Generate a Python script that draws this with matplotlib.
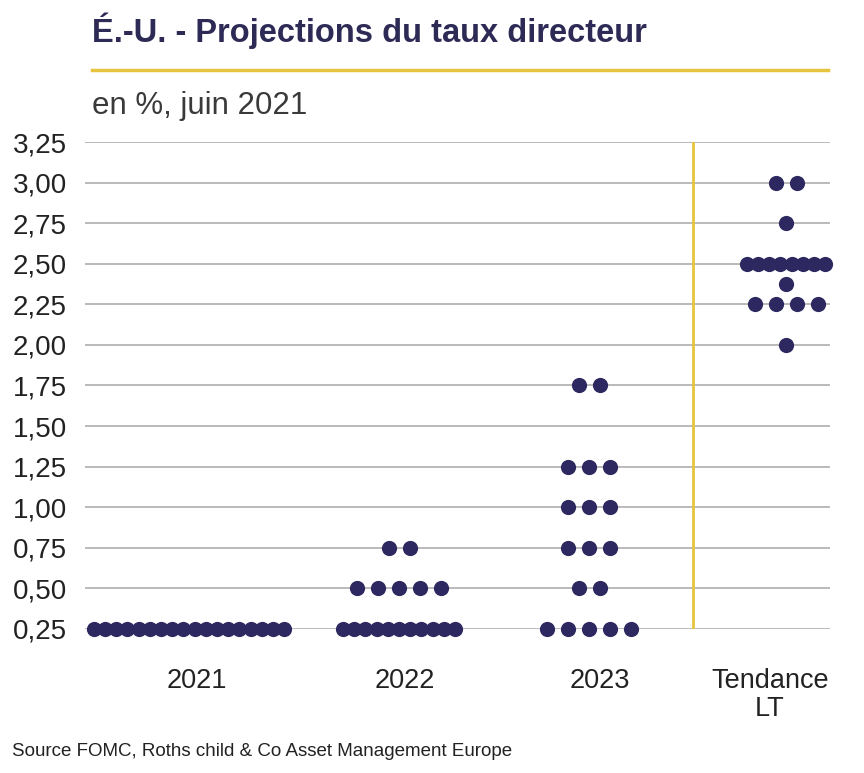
import matplotlib.pyplot as plt
from matplotlib.lines import Line2D

# FOMC dot plot, June 2021
categories = ['2021', '2022', '2023', 'Tendance\nLT']
levels_2021 = [0.25]
counts_2021 = [18]
levels_2022 = [0.25, 0.50, 0.75]
counts_2022 = [11, 5, 2]
levels_2023 = [0.25, 0.50, 0.75, 1.00, 1.25, 1.75]
counts_2023 = [5, 2, 3, 3, 3, 2]
levels_lt = [2.00, 2.25, 2.375, 2.50, 2.75, 3.00]
counts_lt = [1, 4, 1, 8, 1, 2]
yticks = [0.25, 0.50, 0.75, 1.00, 1.25, 1.50, 1.75, 2.00, 2.25, 2.50, 2.75, 3.00, 3.25]

navy = '#2e2860'
yellow = '#e6c440'
plt.rcParams['font.family'] = ['Liberation Sans', 'DejaVu Sans']

W, H = 864, 773
fig = plt.figure(figsize=(W / 100, H / 100), dpi=100)
ax = fig.add_axes([85 / W, 1 - 629 / H, 745 / W, 487 / H])
ax.set_xlim(85, 830)
ax.set_ylim(0.25, 3.25)

centers = [189, 399, 589, 786]
label_x = [197, 405, 600, 770]
groups = [(levels_2021, counts_2021), (levels_2022, counts_2022),
          (levels_2023, counts_2023), (levels_lt, counts_lt)]

for c, (levels, counts) in zip(centers, groups):
    for lev, n in zip(levels, counts):
        step = 21 if n <= 5 else 11.2
        xs = [c + (i - (n - 1) / 2) * step for i in range(n)]
        ax.scatter(xs, [lev] * n, s=120, color=navy, zorder=3,
                   clip_on=False, linewidths=0)

for t in yticks:
    ax.axhline(t, color='#b4b4b4', lw=1.3, zorder=1)
ax.add_line(Line2D([693, 693], [0.25, 3.25], color=yellow, lw=2, zorder=2))

ax.set_yticks(yticks)
ax.set_yticklabels([f'{t:.2f}'.replace('.', ',') for t in yticks],
                   fontsize=20, color='#222222')
ax.tick_params(axis='y', length=0, pad=13)
ax.set_xticks([])
for s in ax.spines.values():
    s.set_visible(False)

for x, lab in zip(label_x, categories):
    ax.text(x, 0.25 - 0.24, lab, ha='center', va='top', fontsize=19.5,
            color='#222222', linespacing=1.1)

fig.text(92 / W, 1 - 31 / H, 'É.-U. - Projections du taux directeur',
         fontsize=23.5, fontweight='bold', color='#2d2a55', va='center')
fig.add_artist(Line2D([92 / W, 828 / W], [1 - 70 / H, 1 - 70 / H],
                      color=yellow, lw=2.5))
fig.text(92 / W, 1 - 106 / H, 'en %, juin 2021', fontsize=22.5,
         color='#3a3a3a', va='center')
fig.text(12 / W, 1 - 751 / H,
         'Source FOMC, Roths child & Co Asset Management Europe',
         fontsize=13.5, color='#222222', va='center')

fig.savefig('out.png', dpi=100, facecolor='white')
